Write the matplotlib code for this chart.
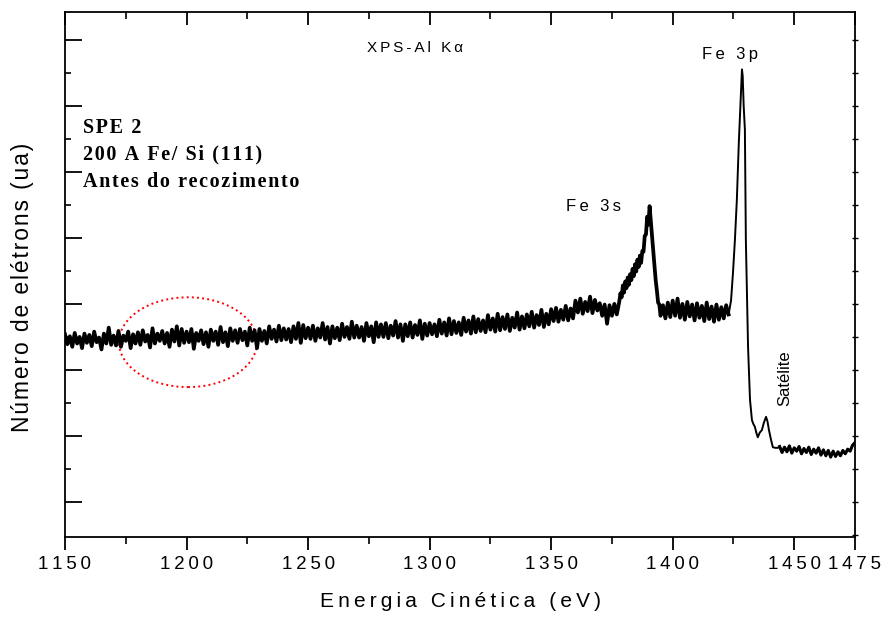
import numpy as np
import matplotlib
matplotlib.use("Agg")
import matplotlib.pyplot as plt
from matplotlib.patches import Ellipse
from matplotlib.ticker import FuncFormatter

# spectrum (arbitrary units, one major y tick = 1)
# background 1150-1378 eV, 1 eV step
energia_fundo = np.arange(1150, 1379, 1.0)
contagem_fundo = [
    2.54, 2.39, 2.51, 2.35, 2.56, 2.40, 2.50, 2.33, 2.55, 2.41,
    2.53, 2.36, 2.58, 2.42, 2.49, 2.31, 2.55, 2.40, 2.64, 2.38,
    2.52, 2.37, 2.59, 2.35, 2.52, 2.44, 2.58, 2.33, 2.54, 2.40,
    2.57, 2.38, 2.60, 2.43, 2.53, 2.34, 2.63, 2.40, 2.55, 2.44,
    2.59, 2.40, 2.56, 2.35, 2.61, 2.43, 2.66, 2.37, 2.62, 2.41,
    2.58, 2.42, 2.62, 2.32, 2.56, 2.44, 2.60, 2.39, 2.57, 2.35,
    2.61, 2.44, 2.58, 2.38, 2.65, 2.42, 2.57, 2.36, 2.63, 2.44,
    2.60, 2.41, 2.62, 2.45, 2.58, 2.37, 2.64, 2.44, 2.60, 2.33,
    2.62, 2.44, 2.59, 2.40, 2.66, 2.47, 2.61, 2.43, 2.67, 2.45,
    2.63, 2.46, 2.62, 2.42, 2.66, 2.47, 2.71, 2.41, 2.68, 2.48,
    2.64, 2.47, 2.67, 2.44, 2.63, 2.49, 2.71, 2.46, 2.65, 2.40,
    2.66, 2.48, 2.64, 2.45, 2.70, 2.50, 2.65, 2.47, 2.73, 2.49,
    2.67, 2.49, 2.65, 2.44, 2.71, 2.51, 2.66, 2.42, 2.72, 2.50,
    2.69, 2.50, 2.71, 2.48, 2.67, 2.52, 2.74, 2.49, 2.69, 2.44,
    2.69, 2.51, 2.72, 2.49, 2.68, 2.53, 2.75, 2.47, 2.70, 2.52,
    2.71, 2.54, 2.69, 2.51, 2.76, 2.55, 2.72, 2.52, 2.78, 2.54,
    2.74, 2.56, 2.72, 2.53, 2.79, 2.58, 2.75, 2.55, 2.81, 2.57,
    2.77, 2.59, 2.75, 2.57, 2.83, 2.61, 2.78, 2.58, 2.85, 2.60,
    2.80, 2.62, 2.84, 2.59, 2.79, 2.64, 2.87, 2.61, 2.81, 2.63,
    2.84, 2.66, 2.88, 2.64, 2.83, 2.68, 2.91, 2.65, 2.85, 2.69,
    2.92, 2.74, 2.94, 2.73, 2.91, 2.76, 2.97, 2.75, 2.93, 2.78,
    3.05, 2.87, 3.08, 2.85, 3.03, 2.89, 3.11, 2.86, 3.06, 2.90,
    3.01, 2.82, 2.99, 2.70, 2.98, 2.82, 3.00, 2.84, 3.03,
]

# Fe 3s peak, 0.5 eV step
energia_fe3s = np.arange(1378.5, 1395.01, 0.5)
contagem_fe3s = [
    3.16, 3.10, 3.28, 3.17, 3.34, 3.24, 3.40, 3.29, 3.45, 3.36,
    3.53, 3.42, 3.60, 3.49, 3.67, 3.56, 3.73, 3.62, 3.80, 3.79,
    4.03, 4.05, 4.32, 4.20, 4.48, 4.25, 4.02, 3.78, 3.58, 3.36,
    3.20, 3.02, 2.99, 2.82,
]

# plateau between the two peaks
energia_meio = np.arange(1396, 1424, 1.0)
contagem_meio = [
    2.98, 2.78, 3.02, 2.80, 3.05, 2.82, 3.08, 2.79, 3.00, 2.76,
    3.03, 2.81, 2.99, 2.75, 3.01, 2.79, 2.97, 2.74, 3.02, 2.77,
    2.96, 2.73, 2.99, 2.76, 2.95, 2.78, 2.98, 2.84,
]

# Fe 3p peak and satellite
energia_fe3p = [1423.5, 1424.0, 1424.8, 1425.6, 1426.4, 1427.2, 1428.1, 1428.5,
                1428.8, 1429.2, 1429.7, 1430.1, 1431.0, 1431.8, 1432.6, 1433.2,
                1433.8, 1434.4, 1435.0, 1435.8, 1436.7, 1437.5, 1438.4, 1439.0,
                1439.6, 1440.4, 1441.2, 1442.2, 1443.3]
contagem_fe3p = [2.95, 3.05, 3.47, 3.97, 4.58, 5.44, 6.20, 6.55,
                 6.45, 6.00, 5.64, 3.97, 2.35, 1.55, 1.24, 1.18,
                 1.14, 1.05, 0.98, 1.05, 1.09, 1.20, 1.29, 1.22,
                 1.09, 0.95, 0.83, 0.82, 0.82]

# tail 1444-1475 eV
energia_cauda = np.arange(1444, 1476, 1.0)
contagem_cauda = [
    0.84, 0.75, 0.83, 0.76, 0.85, 0.74, 0.82, 0.77, 0.84, 0.73,
    0.81, 0.75, 0.83, 0.72, 0.80, 0.74, 0.82, 0.71, 0.79, 0.70,
    0.78, 0.68, 0.77, 0.69, 0.76, 0.70, 0.78, 0.73, 0.80, 0.77,
    0.86, 0.90,
]

xticks = [1150, 1200, 1250, 1300, 1350, 1400, 1450, 1475]
xticks_menores = [1175, 1225, 1275, 1325, 1375, 1425]

energia = np.concatenate([energia_fundo, energia_fe3s, energia_meio, energia_fe3p, energia_cauda])
contagem = np.concatenate([contagem_fundo, contagem_fe3s, contagem_meio, contagem_fe3p, contagem_cauda])

sans = ["Liberation Sans", "DejaVu Sans"]
serif = ["Liberation Serif", "DejaVu Serif"]


def espacar(s, esp="\u2009"):
    # the original export has wide letter spacing
    return esp.join(s)


fig = plt.figure(figsize=(8.82, 6.17), dpi=100)
ax = fig.add_axes([65 / 882, 1 - 537 / 617, 790 / 882, 525 / 617])

# thin line for the whole trace, thicker where the signal is noisy
ax.plot(energia, contagem, color="black", lw=1.4)
ax.plot(np.concatenate([energia_fundo, energia_fe3s, energia_meio]),
        np.concatenate([contagem_fundo, contagem_fe3s, contagem_meio]),
        color="black", lw=2.7)
ax.plot(energia_cauda, contagem_cauda, color="black", lw=2.2)

ax.add_patch(Ellipse((1200.6, 2.42), 56.8, 1.36, fill=False, ec="red", ls=":", lw=1.4))

ax.set_xlim(1150, 1475)
ax.set_ylim(-0.53, 7.42)

for s in ax.spines.values():
    s.set_linewidth(1.3)

# bottom ticks outward with labels
ax.set_xticks(xticks)
ax.set_xticks(xticks_menores, minor=True)
ax.xaxis.set_major_formatter(FuncFormatter(lambda v, p: espacar(f"{v:.0f}")))
ax.tick_params(axis="x", which="major", direction="out", length=9, width=1.3, pad=5,
               labelsize=13.5)
ax.tick_params(axis="x", which="minor", direction="out", length=5, width=1.2)
for lab in ax.get_xticklabels():
    lab.set_fontfamily(sans)

# top ticks inward
top = ax.secondary_xaxis("top")
top.set_xticks(xticks)
top.set_xticks(xticks_menores, minor=True)
top.tick_params(which="major", direction="in", length=9, width=1.3, labeltop=False)
top.tick_params(which="minor", direction="in", length=5, width=1.2)
top.spines["top"].set_visible(False)

# left ticks inward, no labels
ax.set_yticks(np.arange(0, 8, 1))
ax.set_yticks(np.arange(0.5, 7.5, 1), minor=True)
ax.tick_params(axis="y", which="major", direction="in", length=12, width=1.3, labelleft=False)
ax.tick_params(axis="y", which="minor", direction="in", length=4, width=1.2)

# right side small ticks
right = ax.secondary_yaxis("right")
right.set_yticks(np.arange(-0.5, 7.5, 0.5))
right.tick_params(direction="inout", length=5, width=1.0, labelright=False)
right.spines["right"].set_visible(False)

ax.set_xlabel(espacar("Energia Cinética (eV)"), fontsize=15, family=sans)
ax.xaxis.set_label_coords(0.5, -0.104)
ax.set_ylabel(espacar("Número de elétrons (ua)", "\u200a"), fontsize=16.5, family=sans)
ax.yaxis.set_label_coords(-0.039, 0.476)

ax.text(1294, 6.88, espacar("XPS-Al K\u03b1"), fontsize=11, family=sans, ha="center", va="center")
ax.text(1423.5, 6.77, espacar("Fe 3p"), fontsize=12, family=sans, ha="center", va="center")
ax.text(1367.5, 4.47, espacar("Fe 3s"), fontsize=12, family=sans, ha="center", va="center")
ax.text(1446.2, 1.87, "Satélite", fontsize=12, family=sans, ha="center", va="center",
        rotation=90)

for yy, txt in zip([5.67, 5.26, 4.85], ["SPE 2", "200 A Fe/ Si (111)", "Antes do recozimento"]):
    ax.text(1157.4, yy, espacar(txt, "\u200a"), fontsize=14.5, family=serif, weight="bold",
            ha="left", va="center")

fig.savefig("out.png", dpi=100)
